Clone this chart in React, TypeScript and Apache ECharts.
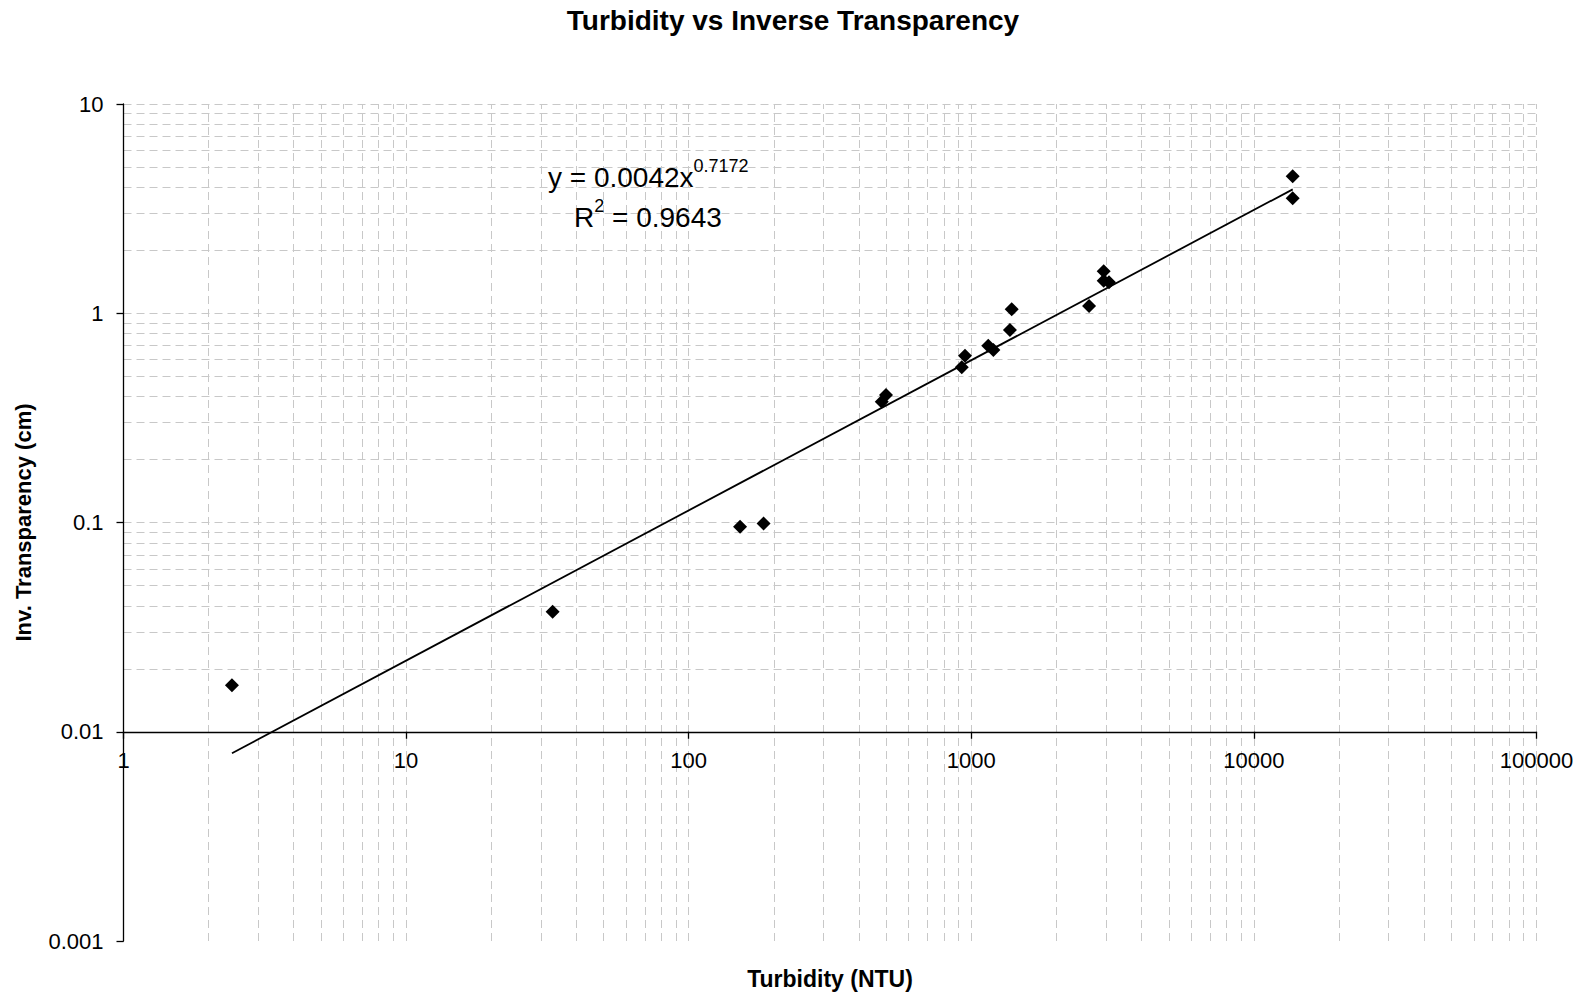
import React, { useEffect, useRef } from "react";
import * as echarts from "echarts";

// ---- data ----
const turbidity = [2.42, 33.0, 152, 184, 482, 499, 925, 950, 1148, 1197, 1370, 1390, 2610, 2941, 2941, 3071, 13720, 13720];
const invTransparency = [0.0167, 0.0375, 0.0955, 0.099, 0.378, 0.407, 0.552, 0.627, 0.7, 0.667, 0.832, 1.045, 1.083, 1.587, 1.431, 1.406, 4.51, 3.54];

// power trendline endpoints (as drawn)
const trendX = [2.42, 13720];
const trendY = [0.0079, 3.91];

// axis / grid values
const xDecades = [1, 10, 100, 1000, 10000, 100000];
const yDecades = [0.001, 0.01, 0.1, 1, 10];
const minorSteps = [2, 3, 4, 5, 6, 7, 8, 9];
const xAxisCrossing = 0.01;

const titleText = "Turbidity vs Inverse Transparency";
const xName = "Turbidity (NTU)";
const yName = "Inv. Transparency (cm)";
const eqMain = "y = 0.0042x";
const eqExp = "0.7172";
const r2Value = "= 0.9643";

const FONT = "'Liberation Sans', Arial, sans-serif";

function gridValues(decades: number[]): number[] {
  const out: number[] = [];
  decades.forEach((d, i) => {
    out.push(d);
    if (i < decades.length - 1) {
      minorSteps.forEach((m) => out.push(Number((d * m).toPrecision(3))));
    }
  });
  return out;
}

export default function App() {
  const ref = useRef<HTMLDivElement>(null);
  useEffect(() => {
    if (!ref.current) return;
    const chart = echarts.init(ref.current, null, { renderer: "svg" });
    const gridStyle = { color: "#c8c8c8", width: 1, type: [8, 5] as any };
    const xGrid = gridValues(xDecades).filter((v) => v !== 1);
    const yGrid = gridValues(yDecades);
    const markData: any[] = [
      ...xGrid.map((v) => ({ xAxis: v })),
      ...yGrid.map((v) => ({ yAxis: v })),
    ];
    const gridTop = 104;
    const gridH = 837;
    const decadeH = gridH / (yDecades.length - 1);
    const crossOffset =
      -decadeH * (Math.log10(xAxisCrossing) - Math.log10(yDecades[0]));
    const option: any = {
      animation: false,
      backgroundColor: "#ffffff",
      textStyle: { fontFamily: FONT },
      grid: { left: 123.5, top: gridTop, width: 1413, height: gridH, containLabel: false },
      xAxis: {
        type: "log",
        logBase: 10,
        min: 1,
        max: 100000,
        position: "bottom",
        offset: crossOffset,
        z: 6,
        axisLine: { show: true, lineStyle: { color: "#000", width: 1.3 } },
        axisTick: { show: true, inside: false, length: 7, lineStyle: { color: "#000", width: 1.3 } },
        axisLabel: {
          show: true,
          margin: 18,
          color: "#000",
          fontSize: 22,
          fontFamily: FONT,
          formatter: (v: number) => String(Number(v.toPrecision(3))),
        },
        splitLine: { show: false },
      },
      yAxis: {
        type: "log",
        logBase: 10,
        min: 0.001,
        max: 10,
        z: 6,
        axisLine: { show: true, lineStyle: { color: "#000", width: 1.3 } },
        axisTick: { show: true, inside: false, length: 7, lineStyle: { color: "#000", width: 1.3 } },
        axisLabel: {
          show: true,
          margin: 20,
          color: "#000",
          fontSize: 22,
          fontFamily: FONT,
          formatter: (v: number) => String(Number(v.toPrecision(3))),
        },
        splitLine: { show: false },
      },
      series: [
        {
          name: "grid",
          type: "line",
          data: [],
          silent: true,
          z: 1,
          markLine: {
            silent: true,
            symbol: ["none", "none"],
            label: { show: false },
            lineStyle: gridStyle,
            z: 1,
            data: markData,
            animation: false,
          },
        },
        {
          name: "Trend",
          type: "line",
          data: trendX.map((x, i) => [x, trendY[i]]),
          showSymbol: false,
          symbol: "none",
          lineStyle: { color: "#000", width: 1.8 },
          z: 3,
          silent: true,
        },
        {
          name: "Data",
          type: "scatter",
          data: turbidity.map((x, i) => [x, invTransparency[i]]),
          symbol: "diamond",
          symbolSize: 14,
          itemStyle: { color: "#000", opacity: 1 },
          z: 4,
        },
      ],
      graphic: [
        {
          type: "text",
          x: 793,
          y: 20,
          style: {
            text: titleText,
            font: `bold 28px ${FONT}`,
            fill: "#000",
            textAlign: "center",
            textVerticalAlign: "middle",
          },
        },
        {
          type: "text",
          x: 830,
          y: 979,
          style: {
            text: xName,
            font: `bold 23px ${FONT}`,
            fill: "#000",
            textAlign: "center",
            textVerticalAlign: "middle",
          },
        },
        {
          type: "text",
          x: 23,
          y: 522.5,
          rotation: Math.PI / 2,
          style: {
            text: yName,
            font: `bold 22px ${FONT}`,
            fill: "#000",
            textAlign: "center",
            textVerticalAlign: "middle",
          },
        },
        {
          type: "text",
          x: 548,
          y: 157,
          z: 10,
          style: {
            text: `{a|${eqMain}}{b|${eqExp}}`,
            fill: "#000",
            rich: {
              a: { fontSize: 28, fontFamily: FONT, lineHeight: 34, verticalAlign: "bottom" },
              b: { fontSize: 18, fontFamily: FONT, lineHeight: 34, verticalAlign: "top" },
            },
          },
        },
        {
          type: "text",
          x: 574,
          y: 197,
          z: 10,
          style: {
            text: `{a|R}{b|2}{a| ${r2Value}}`,
            fill: "#000",
            rich: {
              a: { fontSize: 28, fontFamily: FONT, lineHeight: 34, verticalAlign: "bottom" },
              b: { fontSize: 18, fontFamily: FONT, lineHeight: 34, verticalAlign: "top" },
            },
          },
        },
      ],
    };
    chart.setOption(option);
    return () => chart.dispose();
  }, []);
  return (
    <div
      ref={ref}
      style={{ position: "fixed", left: 0, top: 0, width: 1587, height: 995, background: "#fff" }}
    />
  );
}
